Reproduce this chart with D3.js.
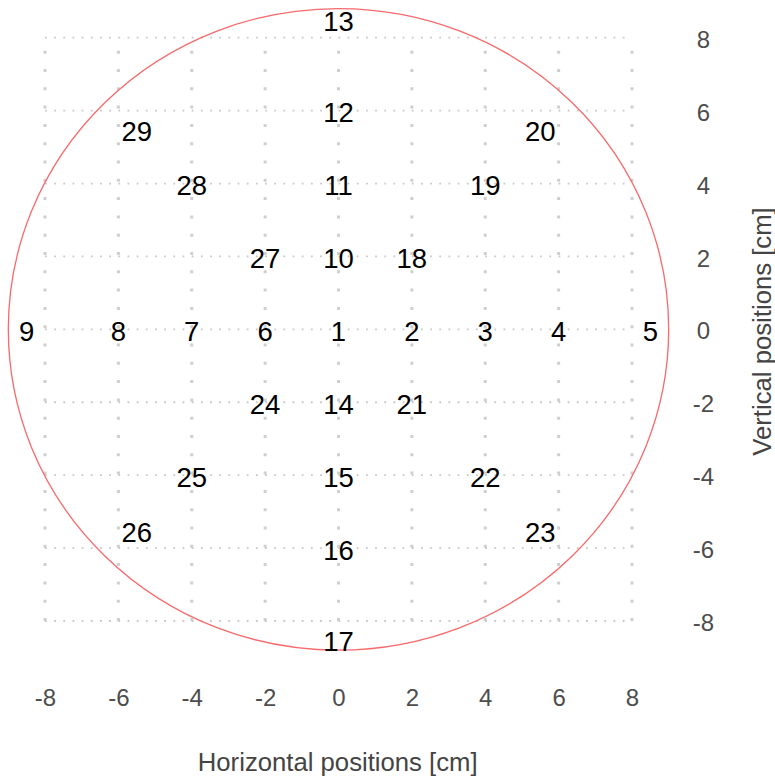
<!DOCTYPE html>
<html>
<head>
<meta charset="utf-8">
<script src="https://cdn.jsdelivr.net/npm/d3@7"></script>
<style>
  html, body { margin: 0; padding: 0; background: #fff; }
  svg text { font-family: "Liberation Sans", Arial, sans-serif; }
</style>
</head>
<body>
<svg id="chart" width="775" height="778"></svg>
<script>
// Measurement positions (cm) and their sensor numbers
const sensorIds = [1, 2, 3, 4, 5, 6, 7, 8, 9, 10, 11, 12, 13, 14, 15, 16, 17,
                   18, 19, 20, 21, 22, 23, 24, 25, 26, 27, 28, 29];
const sensorX = [0, 2, 4, 6, 8.5, -2, -4, -6, -8.5, 0, 0, 0, 0, 0, 0, 0, 0,
                 2, 4, 5.5, 2, 4, 5.5, -2, -4, -5.5, -2, -4, -5.5];
const sensorY = [0, 0, 0, 0, 0, 0, 0, 0, 0, 2, 4, 6, 8.5, -2, -4, -6, -8.5,
                 2, 4, 5.5, -2, -4, -5.5, -2, -4, -5.5, 2, 4, 5.5];

// Axis ticks and guide grid
const tickValues = [-8, -6, -4, -2, 0, 2, 4, 6, 8];
const gridRange = [-8, 8];

// Boundary outline (cm)
const boundaryCenter = [0, 0];
const boundaryRadiusX = 9;
const boundaryRadiusY = 8.8;

const svg = d3.select("#chart");

const x = d3.scaleLinear().domain([-8, 8]).range([45, 632]);
const y = d3.scaleLinear().domain([-8, 8]).range([621, 37.7]);

// Grid: vertical guides (coarse dots) and horizontal guides (fine dots)
const grid = svg.append("g");
grid.selectAll("line.v").data(tickValues).join("line")
  .attr("class", "v")
  .attr("x1", d => x(d)).attr("x2", d => x(d))
  .attr("y1", y(gridRange[0])).attr("y2", y(gridRange[1]))
  .attr("stroke", "#cfcfcf")
  .attr("stroke-width", 3)
  .attr("stroke-dasharray", "3 15.3");
grid.selectAll("line.h").data(tickValues).join("line")
  .attr("class", "h")
  .attr("y1", d => y(d)).attr("y2", d => y(d))
  .attr("x1", x(gridRange[0])).attr("x2", x(gridRange[1]))
  .attr("stroke", "#c8c8c8")
  .attr("stroke-width", 1.8)
  .attr("stroke-dasharray", "1.8 7.37");

// Boundary ellipse
svg.append("ellipse")
  .attr("cx", x(boundaryCenter[0]))
  .attr("cy", y(boundaryCenter[1]))
  .attr("rx", x(boundaryRadiusX) - x(0))
  .attr("ry", y(0) - y(boundaryRadiusY))
  .attr("fill", "none")
  .attr("stroke", "#f8696b")
  .attr("stroke-width", 1.3);

// Sensor labels
const points = sensorIds.map((id, i) => ({ id, x: sensorX[i], y: sensorY[i] }));
svg.append("g").selectAll("text").data(points).join("text")
  .attr("x", d => x(d.x))
  .attr("y", d => y(d.y))
  .attr("dy", "0.43em")
  .attr("text-anchor", "middle")
  .attr("font-size", 27.5)
  .attr("fill", "#000")
  .text(d => d.id);

// Axes
const xAxis = svg.append("g")
  .attr("transform", "translate(0,680)")
  .call(d3.axisBottom(x).tickValues(tickValues).tickSize(0).tickPadding(0)
    .tickFormat(d => String(d)));
xAxis.select(".domain").remove();
xAxis.selectAll("text")
  .attr("font-size", 24)
  .attr("fill", "#4d4d4d")
  .attr("y", 17.5)
  .attr("dy", "0.36em")
  .style("font-family", "'Liberation Sans', Arial, sans-serif");

const yAxis = svg.append("g")
  .attr("transform", "translate(703.5,0)")
  .call(d3.axisRight(y).tickValues(tickValues).tickSize(0).tickPadding(0)
    .tickFormat(d => String(d)));
yAxis.select(".domain").remove();
yAxis.selectAll("text")
  .attr("font-size", 24)
  .attr("fill", "#4d4d4d")
  .attr("x", 0)
  .attr("text-anchor", "middle")
  .attr("dy", "0.4em")
  .style("font-family", "'Liberation Sans', Arial, sans-serif");

// Axis titles
svg.append("text")
  .attr("x", 337.7)
  .attr("y", 771)
  .attr("text-anchor", "middle")
  .attr("font-size", 25.7)
  .attr("fill", "#444")
  .text("Horizontal positions [cm]");

svg.append("text")
  .attr("transform", "translate(771,331.5) rotate(-90)")
  .attr("text-anchor", "middle")
  .attr("font-size", 25.7)
  .attr("fill", "#444")
  .text("Vertical positions [cm]");
</script>
</body>
</html>
